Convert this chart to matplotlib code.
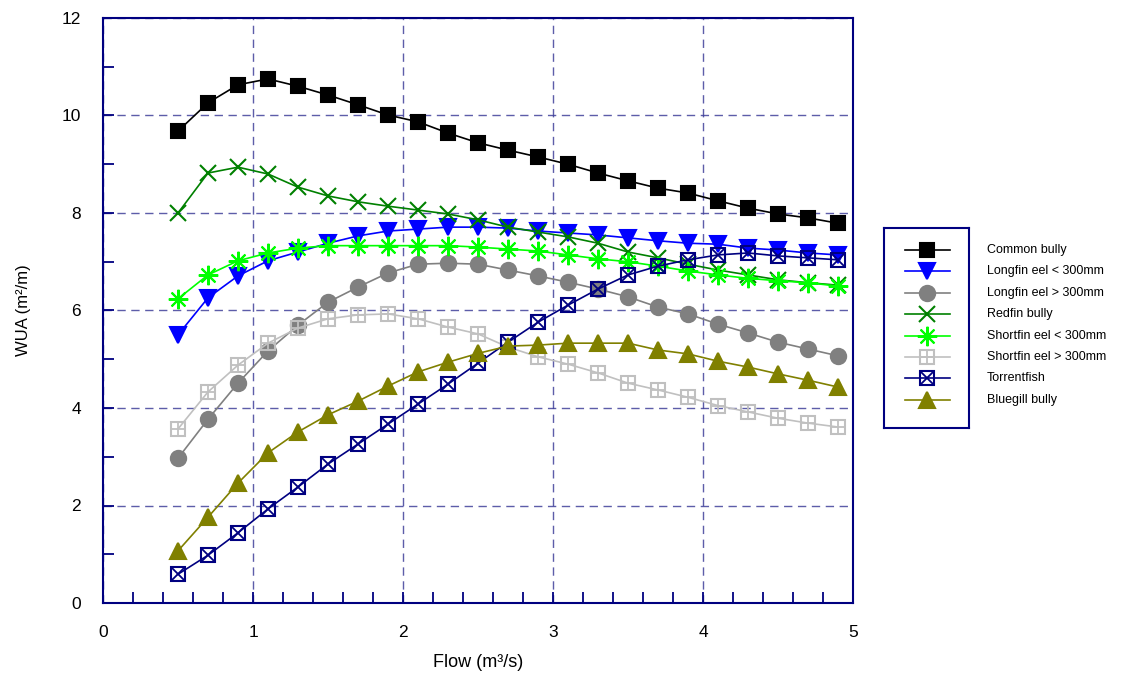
import matplotlib
matplotlib.use("Agg")
import matplotlib.pyplot as plt
from matplotlib.lines import Line2D
from matplotlib.ticker import MultipleLocator

plt.rcParams['font.family'] = ['Liberation Sans', 'DejaVu Sans']

flow = [0.5, 0.7, 0.9, 1.1, 1.3, 1.5, 1.7, 1.9, 2.1, 2.3, 2.5, 2.7,
        2.9, 3.1, 3.3, 3.5, 3.7, 3.9, 4.1, 4.3, 4.5, 4.7, 4.9]

common_bully = [9.68, 10.26, 10.63, 10.75, 10.60, 10.42, 10.22, 10.01, 9.87, 9.64, 9.44, 9.29,
                9.15, 9.00, 8.82, 8.66, 8.51, 8.41, 8.25, 8.10, 7.98, 7.90, 7.79]
longfin_small = [5.50, 6.26, 6.71, 7.02, 7.20, 7.38, 7.53, 7.63, 7.67, 7.71, 7.71, 7.69,
                 7.63, 7.59, 7.55, 7.49, 7.43, 7.38, 7.36, 7.28, 7.24, 7.18, 7.14]
longfin_large = [2.97, 3.77, 4.51, 5.17, 5.70, 6.17, 6.48, 6.77, 6.95, 6.97, 6.95, 6.83,
                 6.71, 6.58, 6.44, 6.28, 6.07, 5.93, 5.72, 5.54, 5.35, 5.21, 5.07]
redfin_bully = [8.00, 8.82, 8.94, 8.80, 8.53, 8.35, 8.23, 8.14, 8.06, 7.98, 7.86, 7.71,
                7.61, 7.51, 7.38, 7.20, 7.08, 6.95, 6.83, 6.73, 6.63, 6.57, 6.52]
shortfin_small = [6.24, 6.73, 7.02, 7.18, 7.28, 7.33, 7.33, 7.33, 7.33, 7.33, 7.30, 7.26,
                  7.22, 7.14, 7.06, 7.00, 6.91, 6.81, 6.73, 6.66, 6.61, 6.57, 6.50]
shortfin_large = [3.57, 4.33, 4.88, 5.33, 5.64, 5.83, 5.91, 5.93, 5.83, 5.66, 5.52, 5.25,
                  5.05, 4.90, 4.72, 4.51, 4.37, 4.22, 4.05, 3.92, 3.79, 3.69, 3.61]
torrentfish = [0.59, 0.98, 1.44, 1.93, 2.38, 2.85, 3.26, 3.67, 4.08, 4.49, 4.92, 5.35,
               5.76, 6.11, 6.44, 6.73, 6.91, 7.04, 7.14, 7.18, 7.12, 7.08, 7.04]
bluegill_bully = [1.07, 1.76, 2.46, 3.08, 3.51, 3.86, 4.14, 4.45, 4.74, 4.94, 5.12, 5.27,
                  5.29, 5.33, 5.33, 5.33, 5.19, 5.11, 4.96, 4.84, 4.70, 4.57, 4.43]

labels = ["Common bully", "Longfin eel < 300mm", "Longfin eel > 300mm", "Redfin bully",
          "Shortfin eel < 300mm", "Shortfin eel > 300mm", "Torrentfish", "Bluegill bully"]
series = [common_bully, longfin_small, longfin_large, redfin_bully,
          shortfin_small, shortfin_large, torrentfish, bluegill_bully]

NAVY = '#000080'
styles = [
    dict(color='black', marker='s', ms=10, mfc='black', mec='black', extra=None),
    dict(color='#0000ff', marker='v', ms=12, mfc='#0000ff', mec='#0000ff', extra=None),
    dict(color='#808080', marker='o', ms=11, mfc='#808080', mec='#808080', extra=None),
    dict(color='#008000', marker='x', ms=12, mfc='#008000', mec='#008000', extra=None),
    dict(color='#00ff00', marker=(8, 2, 0), ms=14, mfc='#00ff00', mec='#00ff00', extra=None),
    dict(color='#c0c0c0', marker='s', ms=10, mfc='none', mec='#c0c0c0', extra='+'),
    dict(color=NAVY, marker='s', ms=10, mfc='none', mec=NAVY, extra='x'),
    dict(color='#808000', marker='^', ms=12, mfc='#808000', mec='#808000', extra=None),
]

fig = plt.figure(figsize=(11.3, 6.79), dpi=100)
ax = fig.add_axes([103/1130, 1-603/679, 750/1130, 585/679])

for ydata, st in zip(series, styles):
    ax.plot(flow, ydata, color=st['color'], lw=1.2, marker=st['marker'], ms=st['ms'],
            mfc=st['mfc'], mec=st['mec'], mew=1.5, zorder=3)
    if st['extra']:
        ax.plot(flow, ydata, ls='none', marker=st['extra'], ms=st['ms']*0.95,
                mec=st['mec'], mew=1.3, zorder=3)

ax.set_xlim(0, 5)
ax.set_ylim(0, 12)
ax.xaxis.set_major_locator(MultipleLocator(1))
ax.xaxis.set_minor_locator(MultipleLocator(0.2))
ax.yaxis.set_major_locator(MultipleLocator(2))
ax.yaxis.set_minor_locator(MultipleLocator(1))
ax.tick_params(which='both', direction='in', color=NAVY, width=1.3, labelsize=12.5, length=8)
ax.tick_params(axis='x', pad=16)
ax.tick_params(axis='y', pad=16)
for s in ax.spines.values():
    s.set_color(NAVY)
    s.set_linewidth(1.5)
ax.grid(True, which='major', color='#40409a', ls=(0, (6, 4)), lw=1.0, alpha=0.85)
ax.set_axisbelow(True)
ax.set_xlabel('Flow (m³/s)', fontsize=13, labelpad=10)
ax.set_ylabel('WUA (m²/m)', fontsize=12, labelpad=22)

# legend box (markers inside frame, text outside)
lax = fig.add_axes([884/1130, 1-428/679, 85/1130, 200/679])
lax.set_xlim(0, 1)
lax.set_ylim(0, 1)
lax.set_xticks([])
lax.set_yticks([])
for s in lax.spines.values():
    s.set_color(NAVY)
    s.set_linewidth(1.5)
row_y0 = 250
row_dy = 21.4
for i, (lab, st) in enumerate(zip(labels, styles)):
    ypix = row_y0 + i * row_dy
    yy = (428 - ypix) / 200
    x0 = (905 - 884) / 85
    x1 = (950 - 884) / 85
    xm = (927 - 884) / 85
    lax.add_line(Line2D([x0, x1], [yy, yy], color=st['color'], lw=1.2))
    lax.plot([xm], [yy], marker=st['marker'], ms=st['ms'], mfc=st['mfc'], mec=st['mec'],
             mew=1.5, ls='none')
    if st['extra']:
        lax.plot([xm], [yy], marker=st['extra'], ms=st['ms']*0.95, mec=st['mec'],
                 mew=1.3, ls='none')
    fig.text(987/1130, 1-ypix/679, lab, fontsize=9, va='center', ha='left')

fig.savefig('out.png', dpi=100)
